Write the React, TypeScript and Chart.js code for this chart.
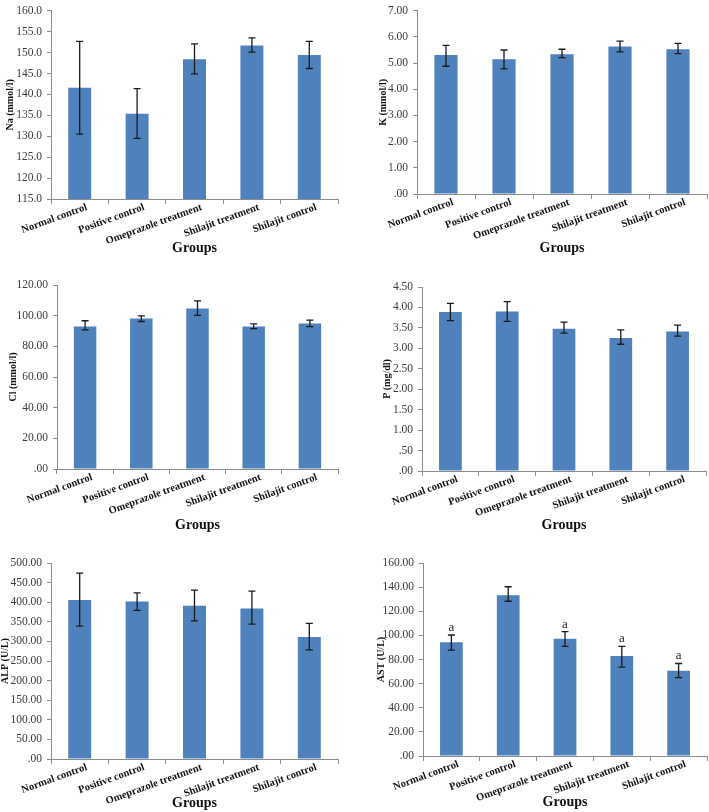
import React, { useEffect, useRef } from "react";
import { Chart, registerables } from "chart.js";

Chart.register(...registerables);

const groups = ["Normal control", "Positive control", "Omeprazole treatment", "Shilajit treatment", "Shilajit control"];

const naMean = [141.6, 135.4, 148.4, 151.7, 149.4];
const naUpper = [152.7, 141.4, 152.1, 153.5, 152.7];
const naLower = [130.5, 129.5, 144.9, 150.1, 146.2];

const kMean = [5.31, 5.15, 5.34, 5.63, 5.53];
const kUpper = [5.68, 5.5, 5.53, 5.84, 5.75];
const kLower = [4.88, 4.78, 5.21, 5.43, 5.36];

const clMean = [92.9, 98.2, 104.7, 92.9, 94.9];
const clUpper = [96.7, 99.8, 109.6, 94.7, 97.1];
const clLower = [90.7, 96.2, 100.2, 91.6, 92.9];

const pMean = [3.89, 3.9, 3.48, 3.25, 3.41];
const pUpper = [4.1, 4.14, 3.64, 3.45, 3.57];
const pLower = [3.68, 3.66, 3.37, 3.1, 3.3];

const alpMean = [405.8, 401.7, 390.8, 384.0, 311.5];
const alpUpper = [474.0, 424.0, 430.8, 428.0, 346.0];
const alpLower = [339.0, 379.0, 352.5, 344.0, 278.4];

const astMean = [94.4, 133.3, 97.2, 82.8, 70.6];
const astUpper = [100.3, 140.3, 103.1, 90.8, 76.7];
const astLower = [87.8, 128.3, 90.9, 73.6, 65.0];
const astLetters = ["a", "", "a", "a", "a"];

const SERIF = "'Liberation Serif', 'Times New Roman', serif";

type Panel = {
  key: string;
  yTitle: string;
  mean: number[];
  upper: number[];
  lower: number[];
  letters?: string[];
  min: number;
  max: number;
  step: number;
  dec: number;
  box: { x: number; y: number; w: number; h: number };
  titleX: number;
  L: number;
  T: number;
  R: number;
  B: number;
  G: number;
};

const panels: Panel[] = [
  { key: "na", yTitle: "Na (mmol/l)", mean: naMean, upper: naUpper, lower: naLower, min: 115, max: 160, step: 5, dec: 1,
    box: { x: 0, y: 0, w: 354, h: 270 }, titleX: 10, L: 51, T: 6, R: 338, B: 199, G: 248 },
  { key: "k", yTitle: "K (mmol/l)", mean: kMean, upper: kUpper, lower: kLower, min: 0, max: 7, step: 1, dec: 2,
    box: { x: 354, y: 0, w: 355, h: 270 }, titleX: 29, L: 63, T: 7, R: 353, B: 194, G: 248 },
  { key: "cl", yTitle: "Cl (mmol/l)", mean: clMean, upper: clUpper, lower: clLower, min: 0, max: 120, step: 20, dec: 2,
    box: { x: 0, y: 270, w: 354, h: 270 }, titleX: 13, L: 57, T: 15, R: 338, B: 199, G: 255 },
  { key: "p", yTitle: "P (mg/dl)", mean: pMean, upper: pUpper, lower: pLower, min: 0, max: 4.5, step: 0.5, dec: 2,
    box: { x: 354, y: 270, w: 355, h: 270 }, titleX: 33, L: 68, T: 17, R: 352, B: 201, G: 255 },
  { key: "alp", yTitle: "ALP (U/L)", mean: alpMean, upper: alpUpper, lower: alpLower, min: 0, max: 500, step: 50, dec: 2,
    box: { x: 0, y: 540, w: 354, h: 272 }, titleX: 5, L: 51, T: 23, R: 338, B: 219, G: 263 },
  { key: "ast", yTitle: "AST (U/L)", mean: astMean, upper: astUpper, lower: astLower, letters: astLetters, min: 0, max: 160, step: 20, dec: 2,
    box: { x: 354, y: 540, w: 355, h: 272 }, titleX: 27, L: 69, T: 23, R: 353, B: 216, G: 262 },
];

const errorBarPlugin = {
  id: "errorBars",
  afterDatasetsDraw(chart: any, _args: any, opts: any) {
    const { ctx } = chart;
    const meta = chart.getDatasetMeta(0);
    const yScale = chart.scales.y;
    const upper: number[] = opts.upper;
    const lower: number[] = opts.lower;
    const letters: string[] | undefined = opts.letters;
    ctx.save();
    ctx.strokeStyle = "#1a1a1a";
    ctx.lineWidth = 1.3;
    meta.data.forEach((bar: any, i: number) => {
      const x = bar.x;
      const yHi = yScale.getPixelForValue(upper[i]);
      const yLo = yScale.getPixelForValue(lower[i]);
      const cap = 3.5;
      ctx.beginPath();
      ctx.moveTo(x, yHi);
      ctx.lineTo(x, yLo);
      ctx.moveTo(x - cap, yHi);
      ctx.lineTo(x + cap, yHi);
      ctx.moveTo(x - cap, yLo);
      ctx.lineTo(x + cap, yLo);
      ctx.stroke();
      if (letters && letters[i]) {
        ctx.fillStyle = "#222";
        ctx.font = `13px ${SERIF}`;
        ctx.textAlign = "center";
        ctx.textBaseline = "bottom";
        ctx.fillText(letters[i], x, yHi - 1);
      }
    });
    ctx.restore();
  },
};

function fmt(v: number, dec: number) {
  let s = Number(v).toFixed(dec);
  if (s.startsWith("0.")) s = s.slice(1);
  return s;
}

function PanelChart({ p }: { p: Panel }) {
  const ref = useRef<HTMLCanvasElement>(null);
  useEffect(() => {
    if (!ref.current) return;
    const yTitleOffset = 6;
    const groupsOffset = 8.4;
    const padLeft = p.titleX - yTitleOffset;
    const yWidth = p.L - padLeft;
    const xBottom = p.G + groupsOffset;
    const xHeight = xBottom - p.B;
    const padBottom = p.box.h - xBottom;
    const chart = new Chart(ref.current, {
      type: "bar",
      data: {
        labels: groups,
        datasets: [
          {
            data: p.mean,
            backgroundColor: "#4F81BD",
            borderWidth: 0,
            barPercentage: 0.4,
            categoryPercentage: 1,
          },
        ],
      },
      options: {
        animation: false,
        responsive: false,
        maintainAspectRatio: false,
        layout: { padding: { left: padLeft, top: p.T, right: p.box.w - p.R, bottom: padBottom } },
        plugins: {
          legend: { display: false },
          tooltip: { enabled: false },
          errorBars: { upper: p.upper, lower: p.lower, letters: p.letters },
        } as any,
        scales: {
          x: {
            grid: { display: true, drawOnChartArea: false, tickLength: 5, color: "#8c8c8c", offset: true },
            border: { color: "#8c8c8c", width: 1 },
            ticks: {
              maxRotation: 20,
              minRotation: 20,
              autoSkip: false,
              padding: -3,
              labelOffset: 7,
              color: "#111",
              font: { family: SERIF, size: 10.5, weight: "bold" },
            },
            title: {
              display: true,
              text: "Groups",
              color: "#111",
              padding: { top: 0, bottom: 0 },
              font: { family: SERIF, size: 14, weight: "bold", lineHeight: 1.2 },
            },
            afterFit: (scale: any) => {
              scale.height = xHeight;
            },
          },
          y: {
            min: p.min,
            max: p.max,
            grid: { display: true, drawOnChartArea: false, tickLength: 4, color: "#8c8c8c" },
            border: { color: "#8c8c8c", width: 1 },
            ticks: {
              stepSize: p.step,
              padding: 5,
              color: "#3a3a3a",
              font: { family: SERIF, size: 11.5, lineHeight: 1 },
              callback: (v: any) => fmt(Number(v), p.dec),
            },
            title: {
              display: true,
              text: p.yTitle,
              color: "#111",
              padding: { top: 0, bottom: 0 },
              font: { family: SERIF, size: 10, weight: "bold", lineHeight: 1.2 },
            },
            afterFit: (scale: any) => {
              scale.width = yWidth;
            },
          },
        },
      },
      plugins: [errorBarPlugin],
    } as any);
    return () => chart.destroy();
  }, [p]);
  return (
    <canvas
      ref={ref}
      width={p.box.w}
      height={p.box.h}
      style={{ position: "absolute", left: p.box.x, top: p.box.y, width: p.box.w, height: p.box.h }}
    />
  );
}

export default function App() {
  return (
    <div style={{ position: "absolute", left: 0, top: 0, width: 709, height: 812, background: "#fff", overflow: "hidden" }}>
      {panels.map((p) => (
        <PanelChart key={p.key} p={p} />
      ))}
    </div>
  );
}
